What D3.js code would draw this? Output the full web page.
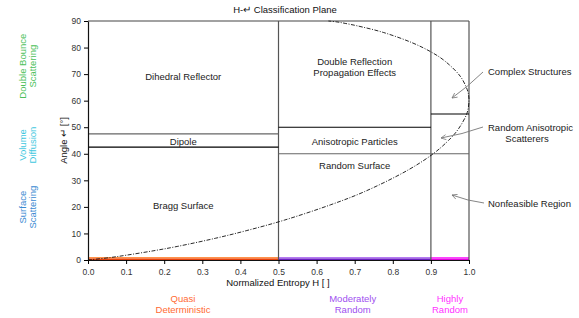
<!DOCTYPE html>
<html>
<head>
<meta charset="utf-8">
<script src="https://cdn.jsdelivr.net/npm/d3@7"></script>
<style>
  body { margin: 0; background: #fff; }
  text { font-family: "Liberation Sans", Arial, sans-serif; }
</style>
</head>
<body>
<script>
// feasible boundary of the H-alpha plane
let lowerH = [0, 0.057, 0.100, 0.173, 0.234, 0.335, 0.417, 0.515, 0.637, 0.725, 0.839, 0.906, 0.946, 0.971, 0.995, 1.0]
let lowerA = [0, 0.9, 1.8, 3.5, 5.1, 8.2, 11.1, 15.0, 20.8, 25.7, 33.8, 40.0, 45.0, 49.1, 55.4, 60.0]
let upperH = [1.0, 0.999, 0.995, 0.977, 0.936, 0.901, 0.851, 0.775, 0.706, 0.675, 0.656, 0.631]
let upperA = [60, 62.1, 64.3, 69.2, 75.0, 78.3, 81.8, 85.7, 88.2, 89.1, 89.6, 90]

// zone borders
let entropyBreaks = [0.5, 0.9]
let zoneLines = [
    {h0: 0, h1: 0.5, a: 47.5, c: "#666"},
    {h0: 0, h1: 0.5, a: 42.5, c: "#000"},
    {h0: 0.5, h1: 0.9, a: 50, c: "#000"},
    {h0: 0.5, h1: 1.0, a: 40, c: "#666"},
    {h0: 0.9, h1: 1.0, a: 55, c: "#000"}
]
let zoneNames = [
    {h: 0.25, a: 69, t: ["Dihedral Reflector"]},
    {h: 0.25, a: 44.6, t: ["Dipole"]},
    {h: 0.25, a: 20.6, t: ["Bragg Surface"]},
    {h: 0.7, a: 72.5, t: ["Double Reflection", "Propagation Effects"]},
    {h: 0.7, a: 44.6, t: ["Anisotropic Particles"]},
    {h: 0.7, a: 35.5, t: ["Random Surface"]}
]
let randomBands = [
    {h0: 0, h1: 0.5, top: "#ff8a3c", bot: "#e8400a", name: ["Quasi", "Deterministic"], c: "#ff6a33"},
    {h0: 0.5, h1: 0.9, top: "#b070f0", bot: "#6a1fc0", name: ["Moderately", "Random"], c: "#a050f0"},
    {h0: 0.9, h1: 1.0, top: "#ff33ff", bot: "#e000e0", name: ["Highly", "Random"], c: "#ff33ff"}
]
let mechanisms = [
    {a: 73, t: ["Double Bounce", "Scattering"], c: "#4cbf5a"},
    {a: 43.3, t: ["Volume", "Diffusion"], c: "#3ec8e0"},
    {a: 19.9, t: ["Surface", "Scattering"], c: "#3a8ad2"}
]
let xTicks = [0, 0.1, 0.2, 0.3, 0.4, 0.5, 0.6, 0.7, 0.8, 0.9, 1.0]
let yTicks = [0, 10, 20, 30, 40, 50, 60, 70, 80, 90]

let width = 579
let height = 318
let m = {left: 88, right: 110, top: 21, bottom: 58}

let svg = d3.select("body").append("svg")
    .attr("width", width)
    .attr("height", height)

let x = d3.scaleLinear().domain([0, 1]).range([m.left, width - m.right])
let y = d3.scaleLinear().domain([0, 90]).range([height - m.bottom, m.top])

// title
svg.append("text")
    .attr("x", 285).attr("y", 13)
    .attr("text-anchor", "middle")
    .attr("font-size", 9.5)
    .attr("fill", "#111")
    .text("H-↵ Classification Plane")

// coloured randomness bands along the bottom
randomBands.forEach(b => {
    svg.append("rect")
        .attr("x", x(b.h0)).attr("y", y(1.1))
        .attr("width", x(b.h1) - x(b.h0)).attr("height", y(0.55) - y(1.1))
        .attr("fill", b.top)
    svg.append("rect")
        .attr("x", x(b.h0)).attr("y", y(0.55))
        .attr("width", x(b.h1) - x(b.h0)).attr("height", y(0) - y(0.55))
        .attr("fill", b.bot)
    let t = svg.append("text")
        .attr("text-anchor", "middle")
        .attr("font-size", 9.5)
        .attr("fill", b.c)
    b.name.forEach((s, i) => t.append("tspan")
        .attr("x", b.h0 == 0 ? 183 : x((b.h0 + b.h1) / 2) + (b.h0 == 0.5 ? -2 : 0))
        .attr("y", 302 + i * 11).text(s))
})

// frame top and right
svg.append("line")
    .attr("x1", x(0)).attr("x2", x(1)).attr("y1", y(90)).attr("y2", y(90))
    .attr("stroke", "#444").attr("stroke-width", 1.2)
svg.append("line")
    .attr("x1", x(1)).attr("x2", x(1)).attr("y1", y(90)).attr("y2", y(0))
    .attr("stroke", "#555").attr("stroke-width", 1.2)

// vertical zone borders
svg.selectAll(".vb").data(entropyBreaks).enter().append("line")
    .attr("x1", d => x(d)).attr("x2", d => x(d))
    .attr("y1", y(90)).attr("y2", y(0))
    .attr("stroke", "#555").attr("stroke-width", 1.2)

// horizontal zone borders
svg.selectAll(".hb").data(zoneLines).enter().append("line")
    .attr("x1", d => x(d.h0)).attr("x2", d => x(d.h1))
    .attr("y1", d => y(d.a)).attr("y2", d => y(d.a))
    .attr("stroke", d => d.c).attr("stroke-width", 1.1)

// boundary curve
let boundary = lowerH.map((h, i) => [h, lowerA[i]])
    .concat(upperH.slice(1).map((h, i) => [h, upperA[i + 1]]))
let line = d3.line()
    .x(d => x(d[0])).y(d => y(d[1]))
    .curve(d3.curveCatmullRom)
svg.append("path")
    .attr("d", line(boundary))
    .attr("fill", "none")
    .attr("stroke", "#111")
    .attr("stroke-width", 0.9)
    .attr("stroke-dasharray", "4,1.5,1,1.5")

// zone names
zoneNames.forEach(z => {
    let t = svg.append("text")
        .attr("text-anchor", "middle")
        .attr("font-size", 9.5)
        .attr("fill", "#222")
    z.t.forEach((s, i) => t.append("tspan")
        .attr("x", x(z.h))
        .attr("y", y(z.a) + 3.5 + (i - (z.t.length - 1) / 2) * 11)
        .text(s))
})

// axes
let xAxis = svg.append("g")
    .attr("transform", `translate(0,${y(0)})`)
    .call(d3.axisBottom(x).tickValues(xTicks).tickFormat(d3.format(".1f")).tickSize(4).tickSizeOuter(0))
let yAxis = svg.append("g")
    .attr("transform", `translate(${x(0)},0)`)
    .call(d3.axisLeft(y).tickValues(yTicks).tickSize(4).tickSizeOuter(0))
svg.selectAll(".tick text")
    .attr("font-family", "Liberation Sans, Arial, sans-serif")
    .attr("font-size", 8.5)
    .attr("fill", "#333")
xAxis.selectAll(".tick text").attr("dy", "0.95em")
svg.selectAll(".domain").attr("stroke", "#111").attr("stroke-width", 1.2)

svg.append("text")
    .attr("x", 278).attr("y", 286)
    .attr("text-anchor", "middle")
    .attr("font-size", 9.5)
    .attr("fill", "#111")
    .text("Normalized Entropy H [ ]")
svg.append("text")
    .attr("transform", `translate(67,${y(45)}) rotate(-90)`)
    .attr("text-anchor", "middle")
    .attr("font-size", 9.5)
    .attr("fill", "#111")
    .text("Angle ↵ [°]")

// scattering mechanisms on the left
mechanisms.forEach(d => {
    let t = svg.append("text")
        .attr("transform", `translate(0,${y(d.a)}) rotate(-90)`)
        .attr("text-anchor", "middle")
        .attr("font-size", 9.5)
        .attr("fill", d.c)
    d.t.forEach((s, i) => t.append("tspan").attr("x", 0).attr("y", 26 + i * 10).text(s))
})

// annotations with arrows
svg.append("defs").append("marker")
    .attr("id", "arr")
    .attr("viewBox", "0 0 10 10")
    .attr("refX", 9).attr("refY", 5)
    .attr("markerWidth", 7).attr("markerHeight", 7)
    .attr("orient", "auto")
    .append("path")
    .attr("d", "M1,1 L9,5 L1,9")
    .attr("fill", "none").attr("stroke", "#777").attr("stroke-width", 1.2)

let notes = [
    {t: ["Complex Structures"], tx: 488, ty: 75, from: [483, 72], to: [452, 98]},
    {t: ["Random Anisotropic", "Scatterers"], tx: 488, ty: 131, from: [483, 127], to: [441, 138]},
    {t: ["Nonfeasible Region"], tx: 488, ty: 207, from: [484, 203], to: [452, 195]}
]
notes.forEach(n => {
    let mid = [(n.from[0] + n.to[0]) / 2, (n.from[1] + n.to[1]) / 2 + 2]
    svg.append("path")
        .attr("d", `M${n.from[0]},${n.from[1]} Q${mid[0]},${mid[1]} ${n.to[0]},${n.to[1]}`)
        .attr("fill", "none")
        .attr("stroke", "#777")
        .attr("stroke-width", 0.9)
        .attr("marker-end", "url(#arr)")
    let t = svg.append("text")
        .attr("font-size", 9.5)
        .attr("fill", "#222")
    n.t.forEach((s, i) => t.append("tspan")
        .attr("x", i == 0 ? n.tx : 527)
        .attr("text-anchor", i == 0 ? "start" : "middle")
        .attr("y", n.ty + i * 11).text(s))
})
</script>
</body>
</html>
